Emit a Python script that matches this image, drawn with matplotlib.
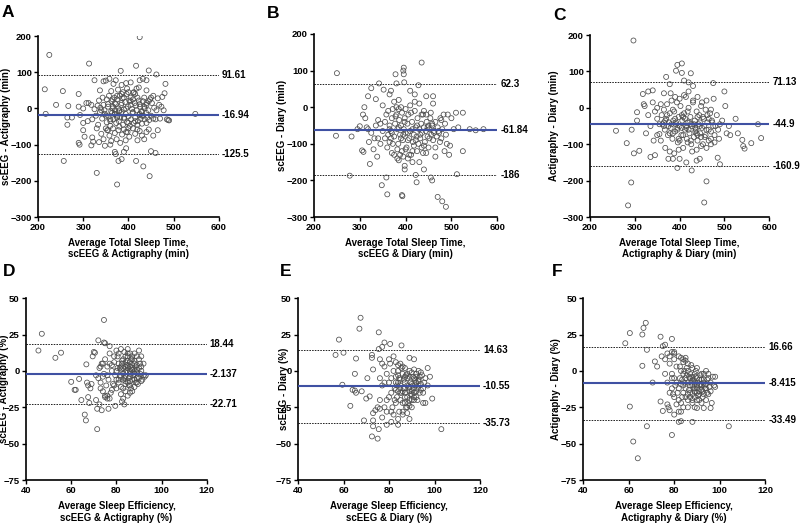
import matplotlib
matplotlib.use("Agg")
import matplotlib.pyplot as plt

plt.rcParams['font.family'] = ['Liberation Sans', 'DejaVu Sans']
plt.rcParams['font.weight'] = 'bold'

# ---- panel A: scEEG - Actigraphy, total sleep time (min)
A_x = [225, 313, 417, 425, 383, 445, 462,
       325, 345, 350, 358, 367, 372, 385, 395, 405, 425, 432, 440, 482, 215, 255, 337, 362, 377, 397, 412,
       418, 423, 440, 450, 465, 475, 480, 455,
       240, 290, 290, 307, 312, 318, 325, 332, 338, 343, 347, 352, 357, 363, 366, 369, 372, 375, 378, 381,
       384, 387, 390, 393, 396, 399, 402, 405, 408, 411, 414, 417, 420, 423, 426, 429, 432, 436, 440, 444,
       448, 452, 457, 462, 468, 473, 478, 267, 300, 335, 355, 362, 388, 400, 370,
       217, 265, 275, 293, 300, 310, 320, 328, 333, 337, 342, 348, 352, 356, 360, 364, 367, 370, 373, 376,
       379, 382, 385, 388, 391, 394, 397, 400, 403, 406, 409, 412, 415, 418, 421, 424, 427, 430, 433, 436,
       439, 442, 446, 450, 455, 460, 470, 485, 488, 490, 548, 265, 340, 380,
       290, 292, 300, 303, 318, 320, 322, 335, 340, 345, 348, 353, 358, 362, 366, 370, 374, 378, 382, 386,
       390, 394, 398, 402, 410, 415, 420, 425, 430, 435, 440, 445, 455, 465, 330, 360,
       257, 330, 370, 375, 378, 385, 390, 395, 417, 433, 447, 450, 460, 372,
       345, 350, 355, 360, 365, 370, 375, 380, 385, 390, 395, 400, 405, 410, 415, 420, 425, 430, 435, 440,
       350, 360, 370, 380, 390, 400, 410, 420, 430, 440, 355, 365, 375, 385, 395, 405, 415, 425, 435, 445]
A_y = [148, 124, 118, 197, 104, 105, 94,
       78, 75, 77, 82, 68, 78, 65, 70, 72, 78, 82, 78, 68, 53, 48, 50, 48, 52, 55, 45,
       55, 58, 50, 30, 28, 32, 42, 35,
       10, 40, 5, 15, 15, 10, -2, 8, 2, 30, -5, 25, 35, 20, 5, 30, 12, 25, 0, 35,
       10, 28, -3, 18, 40, 5, 22, 30, -2, 43, 15, 8, 30, 22, 5, -8, 20, 0, 10, -5,
       25, 15, 2, -5, 10, 5, -5, 7, 0, 22, 12, -8, 45, 45, -15,
       -15, -25, -25, -18, -40, -35, -30, -20, -45, -10, -28, -15, -38, -22, -48, -12, -30, -5, -40, -20,
       -35, -25, -10, -45, -28, -15, -38, -22, -48, -30, -12, -40, -25, -5, -35, -18, -28, -42, -20, -30,
       -12, -25, -32, -20, -28, -30, -28, -30, -32, -33, -15, -45, -5, -8,
       -95, -100, -60, -78, -102, -80, -92, -93, -70, -85, -103, -60, -75, -90, -55, -68, -85, -60, -95, -72,
       -58, -88, -65, -78, -55, -70, -88, -62, -75, -85, -65, -58, -75, -60, -55, -100,
       -145, -178, -120, -210, -145, -140, -120, -110, -145, -160, -187, -118, -123, -126,
       10, -20, 5, -35, 25, -15, 35, -50, 15, -25, 0, -55, 20, -10, 40, -45, 12, -20, 30, -40,
       -55, -30, 15, -5, 30, -40, 25, -58, -10, 15, -60, 0, -25, 40, -65, 10, -35, -15, 5, 20]

# ---- panel B: scEEG - Diary, total sleep time (min)
B_x = [250, 248, 278, 282, 295, 300, 305, 308, 307, 310, 312, 315, 318, 322, 325, 330, 332, 335, 338, 340,
       342, 345, 348, 350, 352, 355, 358, 360, 362, 365, 368, 370, 375, 378, 380, 382, 385, 388, 390, 392,
       393, 395, 396, 396, 397, 398, 398, 400, 405, 410, 415, 420, 422, 424, 428, 430, 435, 440, 445, 450,
       455, 458, 460, 465, 470, 480, 485, 488, 490, 492, 495, 497, 500, 505, 510, 512, 515, 525, 525, 540,
       553, 570,
       355, 358, 362, 365, 368, 370, 372, 375, 377, 380, 382, 384, 386, 388, 390, 392, 394, 396, 398, 400,
       402, 404, 406, 408, 410, 412, 414, 416, 418, 420, 422, 424, 426, 428, 430, 432, 434, 436, 438, 440,
       442, 444, 446, 448, 450, 452, 454, 456, 458, 460, 462, 465, 468, 470, 473, 476, 478, 480, 483, 486,
       488, 375, 385, 395, 405, 415, 425, 435, 445, 360, 365, 370, 440, 455, 460, 380, 385, 400, 410, 420,
       430, 340, 345, 350, 335, 325, 320, 318,
       365, 372, 378, 385, 392, 398, 405, 412, 418, 425, 432, 438, 445, 452, 458, 465, 472, 478, 368, 382,
       395, 408, 422, 435, 448, 462, 475, 390, 415, 440]
B_y = [93, -78, -187, -80, -60, -52, -118, -122, -20, 0, -30, -55, 30, -155, 52, -115, -85, 22, -135, -35,
       65, -100, -213, 5, 48, -85, -192, -238, -75, 35, 45, -125, 15, 90, 65, -140, 20, -130, 0, -240,
       -243, 100, 108, 90, 68, -160, -170, -115, -90, 45, -60, 35, -185, -205, 60, -150, 122, -170, 30, -50,
       -192, -200, 30, -135, -245, -257, -120, -272, -100, -20, -130, -105, -30, -60, -15, -183, -55, -15, -120, -60,
       -63, -60,
       -40, -20, -10, -50, -65, -30, -5, -80, -45, -20, -60, -100, -35, -75, -50, -15, -90, -60, -30, -70,
       -110, -45, -20, -85, -65, -130, -40, -95, -75, -10, -55, -80, -30, -100, -60, -85, -45, -70, -20, -55,
       -95, -65, -40, -80, -110, -60, -30, -75, -50, -90, -65, -40, -80, -55, -70, -30, -85, -60, -20, -45,
       -75, -130, -145, -135, -140, -150, -120, -110, -125, -110, -95, -70, -10, -15, 10, 0, -5, -5, 5, 15,
       10, -85, -45, -65, -50, -70, -95, -60,
       -60, -100, -25, -55, -120, -40, -70, -15, -105, -50, -75, -125, -20, -85, -45, -110, -65, -35, -85, -115,
       -75, -130, -90, -20, -55, -70, -95, -85, -120, -105]

# ---- panel C: Actigraphy - Diary, total sleep time (min)
C_x = [297, 285, 292, 282, 258, 293, 298, 305, 305, 310, 318, 320, 322, 325, 330, 335, 340, 342, 345, 350,
       355, 358, 365, 370, 375, 378, 385, 392, 395, 400, 405, 395, 405, 410, 415, 420, 425, 427, 430, 438,
       445, 455, 460, 470, 475, 485, 490, 495, 500, 502, 505, 510, 513, 525, 530, 540, 542, 545, 560, 575,
       582,
       360, 362, 365, 367, 370, 372, 374, 376, 378, 380, 382, 384, 386, 388, 390, 392, 394, 396, 398, 400,
       402, 404, 406, 408, 410, 412, 414, 416, 418, 420, 422, 424, 426, 428, 430, 432, 434, 436, 438, 440,
       442, 444, 446, 448, 450, 452, 454, 456, 458, 460, 462, 465, 468, 470, 473, 476, 478, 480, 483, 486,
       488, 490, 355, 350, 345, 340, 335, 330, 350, 358, 368, 378, 388, 398, 408, 418, 428, 438, 448, 380,
       390, 400, 410, 420, 430, 440, 450, 460, 470, 385, 395, 405, 415, 425, 435, 445, 455, 465, 375, 365,
       400, 420, 440, 460, 470,
       365, 372, 378, 385, 392, 398, 405, 412, 418, 425, 432, 438, 445, 452, 458, 465, 472, 478, 368, 382,
       395, 408, 422, 435, 448, 462, 475, 390, 415, 440]
C_y = [185, -268, -205, -97, -63, -60, -125, -12, -35, -118, 38, 10, 5, -70, 45, -135, 48, -90, -130, -75,
       -72, 10, 40, 85, -140, 65, -140, 102, 118, -140, 122, -165, 96, 75, -150, 70, 95, -172, 60, -145,
       -140, -260, -202, -100, 68, -137, -155, -35, 45, 5, -70, -50, -75, -30, -70, -88, -105, -112, -97, -45,
       -83,
       -20, -45, -5, -60, -30, 10, -75, -40, -15, -55, 20, -85, -35, -10, -65, -45, 15, -95, -25, -50,
       5, -75, -35, -110, -15, -60, 30, -85, -40, 0, -70, -25, -100, -50, 15, -80, -35, -60, -10, -90,
       -45, -20, -70, 5, -55, -100, -30, -80, -5, -60, -40, -90, -15, -65, -40, 25, -75, -50, -20, -60,
       -85, -45, -45, -30, -10, 15, -50, -20, 0, -90, -110, -120, -125, -115, -75, -95, -120, -115, -105, 40,
       30, 25, 35, 45, 20, 30, 15, 20, -5, -70, -55, -20, -50, -45, -55, -40, -50, -30, -50, -40,
       -90, -60, -25, -110, -85,
       -50, -20, -70, -5, -40, -85, -55, -30, -10, -90, -45, -70, -50, -25, -75, -60, -35, -95, -35, -45,
       -60, -25, -40, -65, -80, -20, -50, -30, -55, -75]

# ---- panel D: scEEG - Actigraphy, sleep efficiency (%)
D_x = [45.5, 47, 53, 55.5, 60, 61.5, 62, 63.5, 64.5, 66, 66.5, 66.7, 67, 67.5, 67.5, 68.5, 68, 69, 69.5, 70,
       70.5, 71, 71.5, 71.5, 72, 71, 72.5, 73, 73.5, 74, 74.5, 74.5, 75, 75, 76, 76.5, 77, 79.5, 82.5, 83.5,
       72, 72.5, 73, 73.5, 74, 74.5, 75, 75.5, 76, 76.5, 77, 77.5, 78, 78.5, 79, 79.5, 80, 80.5, 81, 81.5,
       82, 82.5, 83, 83.5, 84, 84.5, 85, 85.5, 86, 86.5, 87, 87.5, 88, 88.5, 89, 89.5, 90, 90.5, 91, 91.5,
       92, 92.5, 80, 81, 82, 83, 84, 85, 86, 87, 88, 89, 84, 85, 83, 82, 86, 85, 84, 88, 90, 83,
       84, 85, 86, 87, 88, 86, 87, 85, 80, 79, 78, 77, 76, 75, 81, 82, 83, 84, 85, 86, 87, 88, 89, 90,
       91, 80, 81, 82, 79, 78, 77, 76, 74, 73, 89, 91, 92, 91, 93, 87, 88, 89, 90, 86, 85, 84,
       80.5, 81.5, 82.5, 83.5, 84.5, 85.5, 86.5, 87.5, 88.5, 89.5, 90.5, 84, 86, 88, 82, 85, 87, 89, 83, 86]
D_y = [14, 25.5, 9, 12.5, -7.5, -13, -13, -5.5, -20, -30, -34, 4.5, -8, -10, -18, -12, -22, -9, 10, 13,
       12.5, -20, -26, -40, 21, -3, -23, -12, -27, 5, 35, 19.5, 19, -17, -19, -26, 17, -24, -21, -23,
       -5, 2, -8, 5, -14, -2, 8, -10, 3, -6, 12, -15, 0, -9, 6, -3, -12, 10, -6, 2,
       -16, 5, -2, 13, -9, 0, 7, -5, 3, -12, 10, -3, 5, -8, 1, -4, 8, -2, 3, -6,
       -3, -4, 0, 5, -4, 8, 3, -1, -7, 1, -2, 4, -14, -17, -19, -11, 12, 15, 10, 12, 14, 2,
       -4, 2, -2, -6, 0, 6, 4, 4, -6, -10, -13, -19, -17, -18, -8, 1, -6, 6, 10, -10, -14, -11, -8, -5,
       0, 14, 12, 15, 10, 4, 5, -3, -4, 3, 10, 10, 5, -7, -3, 8, -6, -1, 2, 0, -8, -1,
       2, -3, 7, -5, 4, -10, 8, -1, 3, -9, 5, -7, -4, 7, 3, 12, 2, -5, -12, -15]

# ---- panel E: scEEG - Diary, sleep efficiency (%)
E_x = [56.5, 58, 59.5, 60, 63, 64, 65, 65, 65.5, 65.5, 67, 67.5, 68, 69, 70, 70.5, 71.5, 72.5, 72.5, 72.5,
       73, 73, 73, 73, 74, 75, 75.5, 75.5, 75.5, 76, 77, 78, 79, 80.5, 84, 85.5, 89, 89, 91, 95,
       96, 99, 103, 97,
       76, 77, 78, 79, 80, 80.5, 81, 81.5, 82, 82.5, 83, 83.5, 84, 84.5, 85, 85.5, 86, 86.5, 87, 87.5,
       88, 88.5, 89, 89.5, 90, 90.5, 91, 91.5, 92, 92.5, 93, 93.5, 94, 94.5, 95, 95.5, 96, 97, 98, 80,
       81, 82, 83, 84, 85, 86, 87, 88, 89, 90, 91, 92, 93, 94, 95, 83, 84, 85, 86, 87,
       88, 89, 90, 91, 92, 78, 79, 77, 76, 81, 84, 86, 88, 80, 82, 84, 86, 87, 83, 85,
       87, 89, 90, 92, 93, 94, 91, 87, 85, 83, 81, 79, 78, 77, 76, 75, 88, 89, 90, 91, 92,
       82.5, 83.5, 84.5, 85.5, 86.5, 87.5, 88.5, 89.5, 90.5, 91.5, 92.5, 93.5, 86, 88, 90, 84, 87, 89, 91, 93]
E_y = [11, 21.5, -9.5, 12.5, -24, -13, -13.5, -2, -15, 8.5, 29, 36.5, -14, -34, -19, -5, -17.5, -45, 11, 9,
       1, -29, -34, -38, -27, -46.5, -40, 26.5, 15, -20, 16.5, 19.5, -37, 18.5, -37, 17.5, -33, 9, 8, -22,
       -22, -19, -40, 2,
       -5, -10, 3, -20, -8, 5, -15, -25, 0, -12, 6, -18, -3, -28, -10, 2, -22, -6, -15, -25,
       -2, -12, -20, -8, -14, -4, -18, -10, -2, -12, -6, -15, -9, -3, -12, -8, -5, -10, -4, -18,
       -28, -30, -22, -14, -20, -28, -22, -18, -24, -25, -5, -8, 0, -1, -15, -8, 0, 5, -2, -8,
       -10, -14, -9, -12, -14, -25, -28, -32, -26, -35, -33, -30, -29, 8, 10, 4, 3, 2, -4, -6,
       -12, -4, -16, -18, -10, -13, -20, -18, -15, -13, -5, -2, -8, 5, 8, -25, -5, 0, -1, 1, -4,
       -20, -10, -5, -15, -12, -3, -22, -16, -10, -6, -20, -4, -14, -25, -20, -8, -4, -11, -15, -7]

# ---- panel F: Actigraphy - Diary, sleep efficiency (%)
F_x = [58.5, 60.5, 60.5, 62, 64, 66, 66, 66.5, 67.5, 68, 68, 70.5, 71.5, 72.5, 74, 74, 74.5, 75, 75, 76,
       77, 77.5, 78, 79, 79, 79.5, 80, 82, 83, 88, 90, 93, 96, 96.5, 98, 98, 104,
       78, 79, 80, 80.5, 81, 81.5, 82, 82.5, 83, 83.5, 84, 84.5, 85, 85.5, 86, 86.5, 87, 87.5, 88, 88.5,
       89, 89.5, 90, 90.5, 91, 91.5, 92, 92.5, 93, 93.5, 94, 94.5, 95, 95.5, 96, 97, 97.5, 83, 84, 85,
       86, 84, 85, 86, 87, 88, 89, 90, 91, 92, 93, 94, 88, 89, 86, 84, 83, 82, 81, 80,
       79, 80, 81, 82, 83, 87, 88, 89, 90, 91, 92, 93, 94, 95, 96, 90, 88, 86, 85, 84,
       83, 82, 80, 79, 78, 77, 76, 76, 77, 78, 79, 80, 85, 87, 89, 91, 92, 93, 94, 95,
       90, 89, 88,
       82.5, 83.5, 84.5, 85.5, 86.5, 87.5, 88.5, 89.5, 90.5, 91.5, 92.5, 93.5, 94.5, 86, 88, 90, 92, 84, 87, 91]
F_y = [19, 26, -24.5, -48.5, -60, 3.5, 25, 29.5, 33, 14.5, -38, -8, 6.5, 3, -21, 23.5, 10, 17, -27.5, 18,
       -23, -25, -27, 22, -44, -16, 13, -35, -34.5, -35, -25.5, -25.5, -25.5, -22, -11, -4, -38,
       5, -2, 8, -10, 3, -15, 10, -5, 0, -18, 6, -8, -12, 2, -20, -4, -10, 4, -16, -6,
       -12, 0, -20, -8, -14, -3, -10, -18, -6, -12, -9, -15, -5, -11, -8, -4, -10, 9, 8, 7,
       5, -2, -5, -8, -2, -4, -8, -5, -10, -13, -16, -20, -22, -25, -25, -25, -28, -20, -23, -18,
       -12, -5, -8, -12, -9, -15, -10, -18, -15, -20, -6, -2, 0, -2, -14, 2, 2, 0, -18, -15,
       -22, -28, -30, -5, -15, -8, -2, 8, 12, 10, 13, 12, 9, -18, -2, -6, -2, -8, -12, -16,
       -12, -14, -7,
       3, -6, 0, -3, -13, -8, -12, -4, -17, -9, -14, -10, -6, -16, -20, -10, -22, -10, -5, -16]

# bias and limits of agreement (upper, mean, lower)
A_lines = [91.61, -16.94, -125.5]
B_lines = [62.3, -61.84, -186]
C_lines = [71.13, -44.9, -160.9]
D_lines = [18.44, -2.137, -22.71]
E_lines = [14.63, -10.55, -35.73]
F_lines = [16.66, -8.415, -33.49]
line_labels = {
    'A': ['91.61', '-16.94', '-125.5'],
    'B': ['62.3', '-61.84', '-186'],
    'C': ['71.13', '-44.9', '-160.9'],
    'D': ['18.44', '-2.137', '-22.71'],
    'E': ['14.63', '-10.55', '-35.73'],
    'F': ['16.66', '-8.415', '-33.49'],
}

tst_ticks_x = [200, 300, 400, 500, 600]
tst_ticks_y = [-300, -200, -100, 0, 100, 200]
se_ticks_x = [40, 60, 80, 100, 120]
se_ticks_y = [-75, -50, -25, 0, 25, 50]

# letter, x, y, lines, axes rect, xlabel, ylabel, kind, letter pos, ylabel x (right edge of the rotated text)
panels = [
    ('A', A_x, A_y, A_lines, [0.0475, 0.585, 0.226, 0.346], 'Average Total Sleep Time,\nscEEG & Actigraphy (min)', 'scEEG - Actigraphy (min)', 'tst', (0.002, 0.990), -0.15),
    ('B', B_x, B_y, B_lines, [0.3925, 0.585, 0.229, 0.350], 'Average Total Sleep Time,\nscEEG & Diary (min)', 'scEEG - Diary (min)', 'tst', (0.334, 0.988), -0.148),
    ('C', C_x, C_y, C_lines, [0.7375, 0.585, 0.224, 0.348], 'Average Total Sleep Time,\nActigraphy & Diary (min)', 'Actigraphy - Diary (min)', 'tst', (0.691, 0.985), -0.173),
    ('D', D_x, D_y, D_lines, [0.0325, 0.082, 0.226, 0.348], 'Average Sleep Efficiency,\nscEEG & Actigraphy (%)', 'scEEG - Actigraphy (%)', 'se', (0.003, 0.495), -0.094),
    ('E', E_x, E_y, E_lines, [0.3725, 0.082, 0.2275, 0.348], 'Average Sleep Efficiency,\nscEEG & Diary (%)', 'scEEG - Diary (%)', 'se', (0.350, 0.495), -0.05),
    ('F', F_x, F_y, F_lines, [0.729, 0.082, 0.2275, 0.348], 'Average Sleep Efficiency,\nActigraphy & Diary (%)', 'Actigraphy - Diary (%)', 'se', (0.690, 0.495), -0.12),
]

fig = plt.figure(figsize=(8, 5.23), dpi=100)

for letter, xs, ys, lines, pos, xlabel, ylabel, kind, lpos, ylab_x in panels:
    ax = fig.add_axes(pos)
    ax.scatter(xs, ys, s=13, facecolors='none', edgecolors='#4d4d4d', linewidths=0.55, zorder=3)

    if kind == 'tst':
        ax.set_xlim(200, 600)
        ax.set_ylim(-300, 200)
        ax.set_xticks(tst_ticks_x)
        ax.set_yticks(tst_ticks_y)
    else:
        ax.set_xlim(40, 120)
        ax.set_ylim(-75, 50)
        ax.set_xticks(se_ticks_x)
        ax.set_yticks(se_ticks_y)

    ax.axhline(lines[0], color='#222222', lw=0.7, ls=(0, (1.6, 1.2)), zorder=2)
    ax.axhline(lines[1], color='#3f51a3', lw=1.5, zorder=4)
    ax.axhline(lines[2], color='#222222', lw=0.7, ls=(0, (1.6, 1.2)), zorder=2)
    for val, lab in zip(lines, line_labels[letter]):
        ax.text(1.017, val, lab, transform=ax.get_yaxis_transform(), ha='left', va='center',
                fontsize=7, fontweight='bold')

    for side in ['top', 'right']:
        ax.spines[side].set_visible(False)
    for side in ['left', 'bottom']:
        ax.spines[side].set_linewidth(1.2)
    ax.tick_params(direction='out', length=3, width=1, labelsize=6.8, pad=1.5)
    for t in ax.get_xticklabels() + ax.get_yticklabels():
        t.set_fontweight('bold')
    ax.set_xlabel(xlabel, fontsize=7, fontweight='bold', labelpad=4)
    ax.set_ylabel(ylabel, fontsize=7, fontweight='bold')
    ax.yaxis.set_label_coords(ylab_x, 0.5)

    fig.text(lpos[0], lpos[1], letter, fontsize=12.5, fontweight='bold', ha='left', va='top')

plt.savefig('out.png', dpi=100)
